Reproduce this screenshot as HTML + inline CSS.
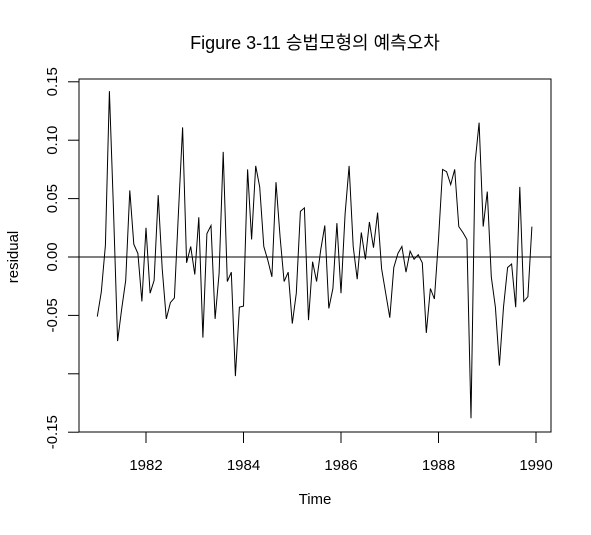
<!DOCTYPE html>
<html><head><meta charset="utf-8"><style>
html,body{margin:0;padding:0;background:#fff;}
svg text{font-family:"Liberation Sans","Noto Sans CJK KR",sans-serif;fill:#000;}
</style></head><body>
<svg id="chart" width="591" height="530" xmlns="http://www.w3.org/2000/svg">
<text x="315" y="49" font-size="18" text-anchor="middle">Figure 3-11 승법모형의 예측오차</text>
<text x="315" y="504" font-size="15" text-anchor="middle">Time</text>
<text transform="translate(18,257) rotate(-90)" font-size="15" text-anchor="middle">residual</text>
<rect x="79" y="79" width="472" height="353" fill="none" stroke="#000" stroke-width="1"/>
<g id="xaxis"></g>
<g id="yaxis"></g>
<line id="zero" stroke="#000" stroke-width="1"/>
<polyline id="series" fill="none" stroke="#000" stroke-width="1"/>
</svg>
<script>
const startYear = 1981;
const freq = 12;
const xTicks = [1982, 1984, 1986, 1988, 1990];
const yTicks = [0.15, 0.10, 0.05, 0.00, -0.05, -0.10, -0.15];
const yTickLabels = ["0.15", "0.10", "0.05", "0.00", "-0.05", "", "-0.15"];
const residuals = [
-0.051,-0.030,0.010,0.142,0.040,-0.072,-0.045,-0.020,0.057,0.011,0.003,-0.038,
0.025,-0.031,-0.020,0.053,-0.010,-0.053,-0.039,-0.035,0.039,0.111,-0.005,0.009,
-0.015,0.034,-0.069,0.020,0.027,-0.053,-0.014,0.090,-0.021,-0.013,-0.102,-0.043,
-0.042,0.075,0.015,0.078,0.060,0.009,-0.003,-0.017,0.064,0.017,-0.021,-0.013,
-0.057,-0.031,0.039,0.042,-0.054,-0.004,-0.021,0.006,0.027,-0.044,-0.027,0.029,
-0.031,0.037,0.078,0.009,-0.019,0.021,-0.002,0.030,0.008,0.038,-0.010,-0.031,
-0.052,-0.009,0.003,0.009,-0.013,0.005,-0.002,0.002,-0.005,-0.065,-0.027,-0.036,
0.015,0.075,0.073,0.062,0.075,0.026,0.021,0.015,-0.138,0.081,0.115,0.026,
0.056,-0.017,-0.043,-0.093,-0.043,-0.009,-0.006,-0.043,0.060,-0.038,-0.034,0.026
];
const NS = "http://www.w3.org/2000/svg";
function xs(t){ return 146 + (t - 1982) * 48.75; }
function ys(v){ return 257 - v * 1168; }
const xa = document.getElementById('xaxis');
xTicks.forEach(t => {
  const l = document.createElementNS(NS,'line');
  
  
  l.setAttribute('x1',xs(t)); l.setAttribute('x2',xs(t));
  l.setAttribute('y1',432); l.setAttribute('y2',443);
  l.setAttribute('stroke','#000');
  xa.appendChild(l);
  const tx = document.createElementNS(NS,'text');
  
  
  tx.setAttribute('x',xs(t)); tx.setAttribute('y',470);
  tx.setAttribute('font-size','15'); tx.setAttribute('text-anchor','middle');
  tx.textContent = String(t);
  xa.appendChild(tx);
});
const ya = document.getElementById('yaxis');
yTicks.forEach((v,i) => {
  const l = document.createElementNS(NS,'line');
  
  
  l.setAttribute('x1',68); l.setAttribute('x2',79);
  l.setAttribute('y1',ys(v)); l.setAttribute('y2',ys(v));
  l.setAttribute('stroke','#000');
  ya.appendChild(l);
  if (yTickLabels[i]) {
    const tx = document.createElementNS(NS,'text');
    
    
    tx.setAttribute('transform','translate(57,'+ys(v)+') rotate(-90)');
    tx.setAttribute('font-size','15'); tx.setAttribute('text-anchor','middle');
    tx.textContent = yTickLabels[i];
    ya.appendChild(tx);
  }
});
const z = document.getElementById('zero');
z.setAttribute('x1',79); z.setAttribute('x2',551);
z.setAttribute('y1',ys(0)); z.setAttribute('y2',ys(0));
const pts = residuals.map((v,i) => xs(startYear + i/freq).toFixed(1) + ',' + ys(v).toFixed(1));
document.getElementById('series').setAttribute('points', pts.join(' '));
</script>
</body></html>
